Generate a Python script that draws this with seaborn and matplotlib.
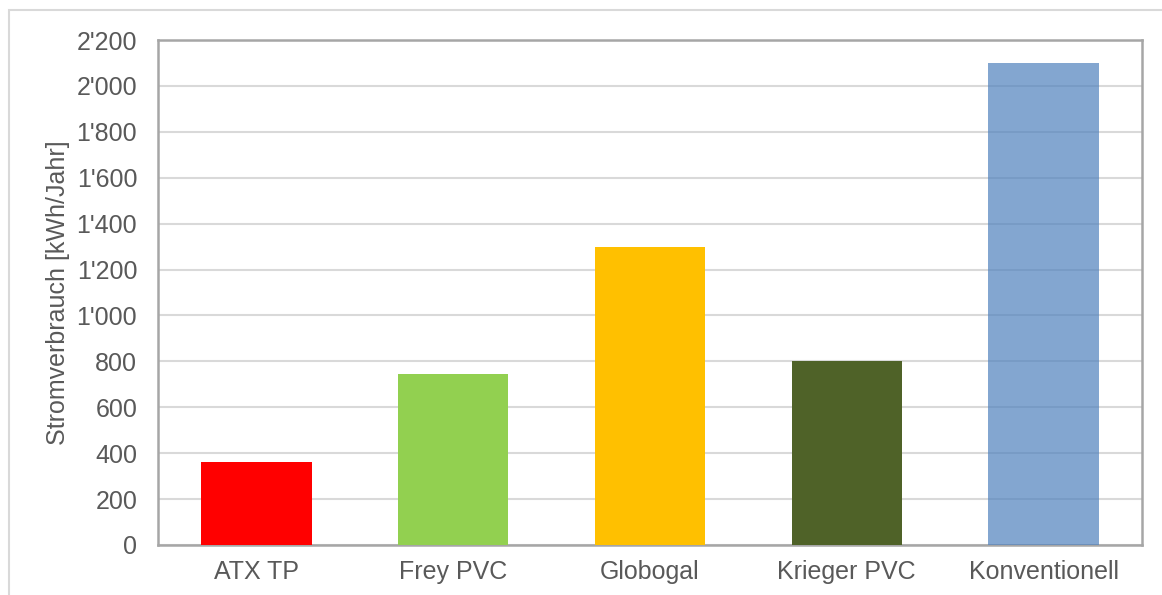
import matplotlib
matplotlib.use('Agg')
import matplotlib.pyplot as plt
import matplotlib.ticker as mticker
import seaborn as sns
import pandas as pd

# Data
products = ['ATX TP', 'Frey PVC', 'Globogal', 'Krieger PVC', 'Konventionell']
verbrauch = [360, 745, 1300, 800, 2100]
colors = ['#FF0000', '#92D050', '#FFC000', '#4F6228', '#4F81BD']

df = pd.DataFrame({'produkt': products, 'verbrauch': verbrauch})

sns.set_theme(style='white')
plt.rcParams['font.family'] = ['Liberation Sans', 'DejaVu Sans']

fig = plt.figure(figsize=(11.62, 5.95), dpi=100)
ax = fig.add_axes([158 / 1162, 1 - 545 / 595, 984 / 1162, 505 / 595])

sns.barplot(data=df, x='produkt', y='verbrauch', hue='produkt', palette=colors,
            width=0.56, saturation=1, legend=False, linewidth=0, ax=ax, zorder=3)
# last bar is slightly see-through in the original
ax.patches[-1].set_alpha(0.7)

ax.set_ylim(0, 2200)
ax.set_yticks(range(0, 2201, 200))
ax.yaxis.set_major_formatter(mticker.FuncFormatter(lambda v, p: f'{int(v):,}'.replace(',', "'")))
ax.grid(axis='y', color='#d9d9d9', linewidth=1.5, zorder=0)
ax.set_axisbelow(True)

for s in ax.spines.values():
    s.set_color('#a6a6a6')
    s.set_linewidth(1.8)

ax.tick_params(axis='both', colors='#595959', labelsize=18, length=0)
ax.tick_params(axis='x', pad=11)
ax.tick_params(axis='y', pad=15)
ax.set_xlabel('')
ax.set_ylabel('Stromverbrauch [kWh/Jahr]', fontsize=18, color='#595959', labelpad=4.5)

# outer chart border
fig.patches.append(plt.Rectangle((9 / 1162, -0.01), 1.1, 1 - 10 / 595 + 0.01,
                                 transform=fig.transFigure, fill=False,
                                 edgecolor='#d9d9d9', linewidth=1.5))

fig.savefig('out.png', dpi=100)
